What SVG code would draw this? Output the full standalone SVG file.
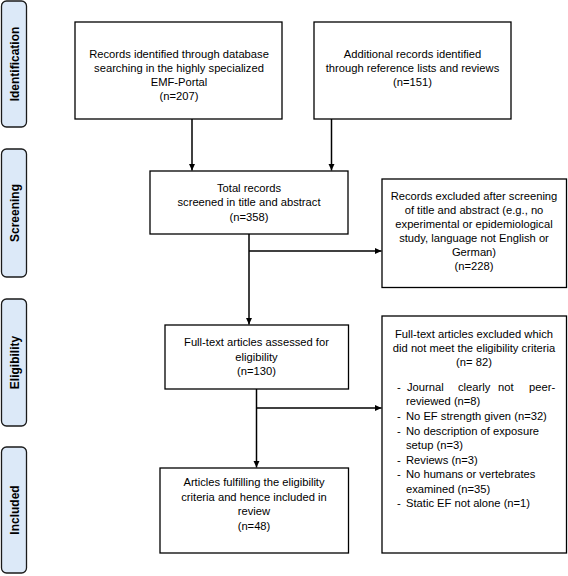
<svg xmlns="http://www.w3.org/2000/svg" width="568" height="576" viewBox="0 0 568 576">
<style>
.bg{fill:#ffffff}
.phase rect{fill:#dce9f8;stroke:#1a1a1a;stroke-width:1.3}
.phase text{font-family:"Liberation Sans",Arial,sans-serif;font-size:12px;font-weight:bold;fill:#000;text-anchor:middle}
.box rect{fill:#fff;stroke:#000;stroke-width:1.3}
.box text{font-family:"Liberation Sans",Arial,sans-serif;font-size:11.2px;fill:#000;text-anchor:middle}
.box text.l{text-anchor:start}
.conn path{fill:none;stroke:#000;stroke-width:1.5}
</style>
<defs>
<marker id="ah" markerWidth="8" markerHeight="8" refX="7" refY="4" orient="auto" markerUnits="userSpaceOnUse">
<path d="M0,0.8 L7,4 L0,7.2 Z" fill="#000"/>
</marker>
</defs>
<rect class="bg" x="0" y="0" width="568" height="576"/>

<g id="phase-identification" class="phase">
<rect x="1.5" y="1" width="25" height="126" rx="5"/>
<text transform="translate(18.5,64) rotate(-90)">Identification</text>
</g>
<g id="phase-screening" class="phase">
<rect x="1.5" y="149" width="25" height="128" rx="5"/>
<text transform="translate(18.5,213) rotate(-90)">Screening</text>
</g>
<g id="phase-eligibility" class="phase">
<rect x="1.5" y="299" width="25" height="127" rx="5"/>
<text transform="translate(18.5,362.5) rotate(-90)">Eligibility</text>
</g>
<g id="phase-included" class="phase">
<rect x="1.5" y="447" width="25" height="126" rx="5"/>
<text transform="translate(18.5,510) rotate(-90)">Included</text>
</g>

<g id="box-database" class="box">
<rect x="75" y="22" width="207" height="97"/>
<text x="179" y="58">Records identified through database</text>
<text x="179" y="72">searching in the highly specialized</text>
<text x="179" y="86">EMF-Portal</text>
<text x="179" y="100">(n=207)</text>
</g>

<g id="box-additional" class="box">
<rect x="314" y="22" width="197" height="97"/>
<text x="412.5" y="58">Additional records identified</text>
<text x="412.5" y="72">through reference lists and reviews</text>
<text x="412.5" y="86">(n=151)</text>
</g>

<g id="box-screened" class="box">
<rect x="150" y="171" width="198" height="63"/>
<text x="249" y="192">Total records</text>
<text x="249" y="206">screened in title and abstract</text>
<text x="249" y="220.5">(n=358)</text>
</g>

<g id="box-excluded-screening" class="box">
<rect x="382" y="179" width="184.5" height="108.5"/>
<text x="474" y="200">Records excluded after screening</text>
<text x="474" y="214">of title and abstract (e.g., no</text>
<text x="474" y="228">experimental or epidemiological</text>
<text x="474" y="242">study, language not English or</text>
<text x="474" y="256">German)</text>
<text x="474" y="270">(n=228)</text>
</g>

<g id="box-fulltext" class="box">
<rect x="165" y="325" width="183.5" height="64"/>
<text x="256.5" y="346">Full-text articles assessed for</text>
<text x="256.5" y="360.5">eligibility</text>
<text x="256.5" y="375">(n=130)</text>
</g>

<g id="box-excluded-fulltext" class="box">
<rect x="382" y="316" width="184.5" height="237"/>
<text x="474" y="337.5">Full-text articles excluded which</text>
<text x="474" y="351.5">did not meet the eligibility criteria</text>
<text x="474" y="365.5">(n= 82)</text>
<text class="l" x="397" y="391">-</text>
<text class="l" x="407" y="391">Journal</text>
<text class="l" x="458" y="391">clearly</text>
<text class="l" x="498" y="391">not</text>
<text class="l" x="529" y="391">peer-</text>
<text class="l" x="406" y="405">reviewed (n=8)</text>
<text class="l" x="397" y="420">-</text>
<text class="l" x="406" y="420">No EF strength given (n=32)</text>
<text class="l" x="397" y="435">-</text>
<text class="l" x="406" y="435">No description of exposure</text>
<text class="l" x="406" y="449">setup (n=3)</text>
<text class="l" x="397" y="463.5">-</text>
<text class="l" x="406" y="463.5">Reviews (n=3)</text>
<text class="l" x="397" y="478">-</text>
<text class="l" x="406" y="478">No humans or vertebrates</text>
<text class="l" x="406" y="492.5">examined (n=35)</text>
<text class="l" x="397" y="507">-</text>
<text class="l" x="406" y="507">Static EF not alone (n=1)</text>
</g>

<g id="box-included" class="box">
<rect x="160" y="468" width="188.5" height="85"/>
<text x="254" y="486">Articles fulfilling the eligibility</text>
<text x="254" y="500.5">criteria and hence included in</text>
<text x="254" y="515">review</text>
<text x="254" y="529.5">(n=48)</text>
</g>

<g id="connectors" class="conn">
<path d="M192 119 V170.5" marker-end="url(#ah)"/>
<path d="M331.5 119 V170.5" marker-end="url(#ah)"/>
<path d="M249 234 V324.5" marker-end="url(#ah)"/>
<path d="M249 251 H381.5" marker-end="url(#ah)"/>
<path d="M256.5 389 V467.5" marker-end="url(#ah)"/>
<path d="M256.5 408 H381.5" marker-end="url(#ah)"/>
</g>
</svg>
